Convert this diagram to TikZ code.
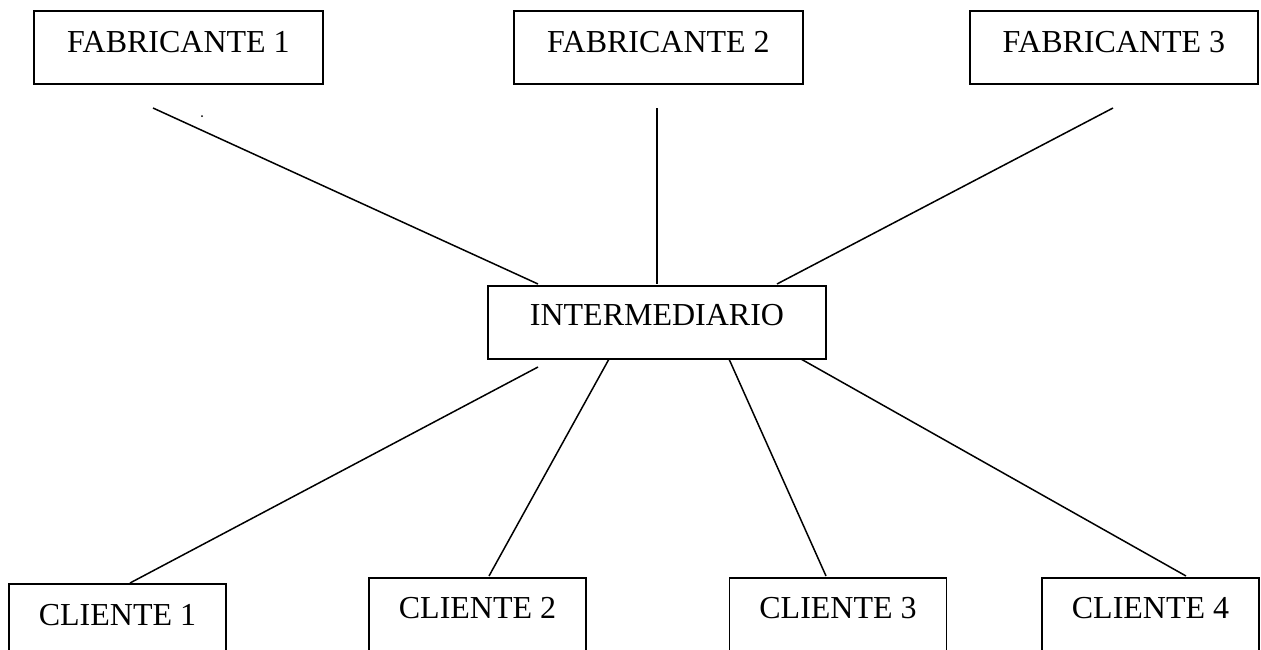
\documentclass[tikz,border=0pt]{standalone}
\usepackage{fontspec}
\setmainfont{Liberation Serif}
\usepackage{tikz}
\usetikzlibrary{positioning}

\begin{document}
\begin{tikzpicture}[x=1pt, y=-1pt,
    caja/.style={draw=black, line width=1.5pt, inner sep=0pt, anchor=base, text height=41pt, text depth=32pt, font=\fontsize{32}{36}\selectfont},
    cliente/.style={caja, minimum width=217pt, text depth=60pt},
    linea/.style={line width=1.5pt}]
            \useasboundingbox (0, 0) rectangle (1261, 649);
            \clip (0, 0) rectangle (1261, 649);

            \node[caja, minimum width=289pt] (f1) at (178.5, 52) {FABRICANTE 1};
            \node[caja, minimum width=289pt] (f2) at (658.5, 52) {FABRICANTE 2};
            \node[caja, minimum width=288pt] (f3) at (1114, 52) {FABRICANTE 3};
            \node[caja, minimum width=338pt, text height=39pt, text depth=34pt] (inter) at (657, 325) {INTERMEDIARIO};
            \node[cliente, text height=41pt] (c1) at (117.5, 625) {CLIENTE 1};
            \node[cliente, text height=40pt] (c2) at (477.5, 618) {CLIENTE 2};
            \node[cliente, text height=40pt] (c3) at (838, 618) {CLIENTE 3};
            \node[cliente, text height=40pt] (c4) at (1150.5, 618) {CLIENTE 4};
            \node[circle, fill=black, inner sep=0pt, minimum size=2pt] (punto) at (202, 116) {};

            % extremos de las lineas
            \coordinate (f1a) at (153, 108);
            \coordinate (f2a) at (657, 108);
            \coordinate (f3a) at (1113, 108);
            \coordinate (i1) at (538, 284);
            \coordinate (i2) at (657, 284);
            \coordinate (i3) at (777, 284);
            \coordinate (i4) at (538, 367);
            \coordinate (i5) at (609, 359);
            \coordinate (i6) at (729, 359);
            \coordinate (i7) at (801, 359);
            \coordinate (c1a) at (130, 583);
            \coordinate (c2a) at (489, 576);
            \coordinate (c3a) at (826, 576);
            \coordinate (c4a) at (1186, 576);

            \draw[linea] (f1a) -- (i1);
            \draw[linea] (f2a) -- (i2);
            \draw[linea] (f3a) -- (i3);
            \draw[linea] (i4) -- (c1a);
            \draw[linea] (i5) -- (c2a);
            \draw[linea] (i6) -- (c3a);
            \draw[linea] (i7) -- (c4a);
        \end{tikzpicture}
\end{document}
